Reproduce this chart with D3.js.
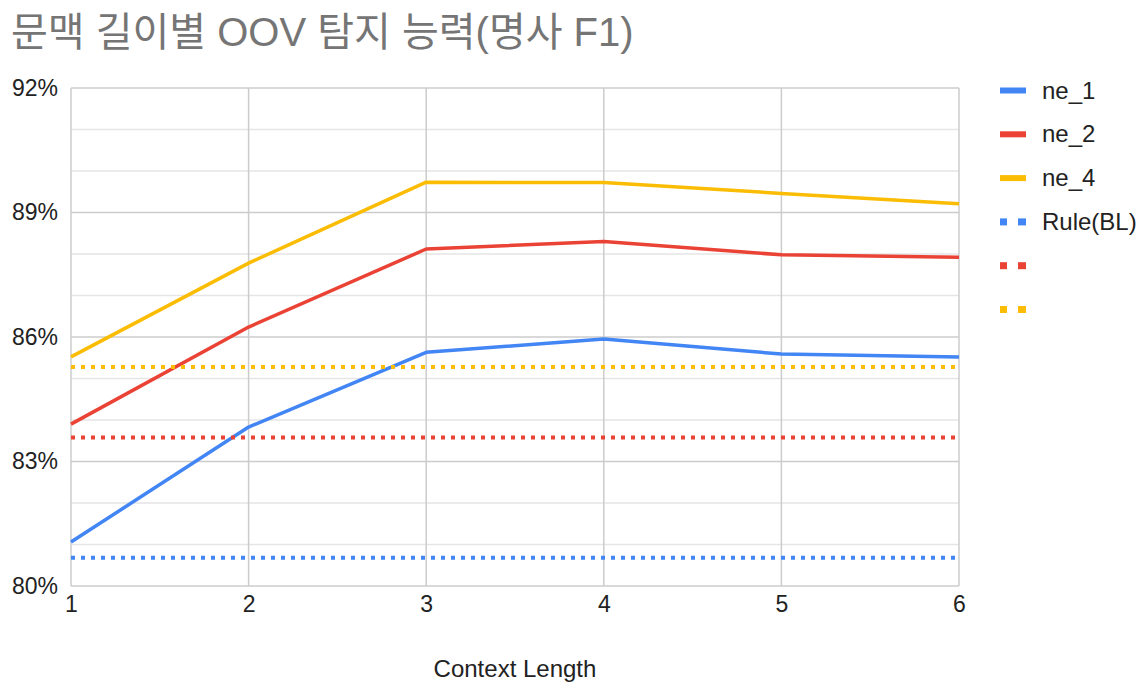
<!DOCTYPE html>
<html><head><meta charset="utf-8">
<script src="https://cdn.jsdelivr.net/npm/d3@7"></script>
<style>
html,body{margin:0;padding:0;background:#fff;}
svg{display:block;font-family:"Liberation Sans",Arial,"Noto Sans CJK KR",sans-serif;}
</style></head><body>
<svg id="c" width="1148" height="698"></svg>
<script>
const title = "문맥 길이별 OOV 탐지 능력(명사 F1)";
const xTitle = "Context Length";
const contextLengths = [1, 2, 3, 4, 5, 6];
const ne1 = [81.06, 83.83, 85.63, 85.95, 85.59, 85.52];
const ne2 = [83.90, 86.24, 88.12, 88.30, 87.98, 87.92];
const ne4 = [85.52, 87.78, 89.73, 89.72, 89.46, 89.21];
const ruleBlue = [80.68, 80.68, 80.68, 80.68, 80.68, 80.68];
const ruleRed = [83.58, 83.58, 83.58, 83.58, 83.58, 83.58];
const ruleYellow = [85.28, 85.28, 85.28, 85.28, 85.28, 85.28];
const seriesNames = ["ne_1", "ne_2", "ne_4", "Rule(BL)", "", ""];
const yMajorTicks = [80, 83, 86, 89, 92];
const yMinorTicks = [81, 82, 84, 85, 87, 88, 90, 91];

const colors = ["#4285F4", "#EA4335", "#FBBC04", "#4285F4", "#EA4335", "#FBBC04"];
const dashed = [false, false, false, true, true, true];
const allSeries = [ne1, ne2, ne4, ruleBlue, ruleRed, ruleYellow];

const svg = d3.select("#c");
const L = 71, R = 959, T = 88, B = 586;
const x = d3.scaleLinear().domain([1, 6]).range([L, R]);
const y = d3.scaleLinear().domain([80, 92]).range([B, T]);

svg.append("text").attr("x", 11).attr("y", 46)
  .attr("font-family", "'Liberation Sans','Noto Sans CJK KR',sans-serif")
  .attr("font-size", 40).attr("fill", "#757575").text(title);

// minor gridlines
svg.append("g").selectAll("line").data(yMinorTicks).join("line")
  .attr("x1", L).attr("x2", R).attr("y1", d => y(d)).attr("y2", d => y(d))
  .attr("stroke", "#e5e5e5").attr("stroke-width", 1.5);
// vertical gridlines
svg.append("g").selectAll("line").data(contextLengths).join("line")
  .attr("x1", d => x(d)).attr("x2", d => x(d)).attr("y1", T).attr("y2", B)
  .attr("stroke", "#cccccc").attr("stroke-width", 1.5);
// major gridlines
svg.append("g").selectAll("line").data(yMajorTicks).join("line")
  .attr("x1", L).attr("x2", R).attr("y1", d => y(d)).attr("y2", d => y(d))
  .attr("stroke", "#cccccc").attr("stroke-width", 1.5);

// axes
const yAxis = d3.axisLeft(y).tickValues(yMajorTicks).tickFormat(d => d + "%").tickSize(0).tickPadding(13);
const gy = svg.append("g").attr("transform", `translate(${L},0)`).call(yAxis);
gy.select(".domain").remove();
gy.selectAll("text").attr("font-size", 23).attr("fill", "#222").attr("font-family", "'Liberation Sans',Arial,sans-serif");

const xAxis = d3.axisBottom(x).tickValues(contextLengths).tickFormat(d3.format("d")).tickSize(0).tickPadding(10);
const gx = svg.append("g").attr("transform", `translate(0,${B})`).call(xAxis);
gx.select(".domain").remove();
gx.selectAll("text").attr("font-size", 23).attr("fill", "#222").attr("font-family", "'Liberation Sans',Arial,sans-serif");

svg.append("text").attr("x", (L + R) / 2).attr("y", 677).attr("text-anchor", "middle")
  .attr("font-size", 24).attr("fill", "#222").text(xTitle);

// series
const line = d3.line().x((d, i) => x(contextLengths[i])).y(d => y(d));
allSeries.forEach((s, k) => {
  svg.append("path").datum(s).attr("d", line)
    .attr("fill", "none").attr("stroke", colors[k])
    .attr("stroke-width", dashed[k] ? 4 : 3.5)
    .attr("stroke-linejoin", "round")
    .attr("stroke-dasharray", dashed[k] ? "4,6" : null);
});

// legend
const lg = svg.append("g");
seriesNames.forEach((n, k) => {
  const cy = 90.5 + k * 43.8;
  const g = lg.append("g");
  if (dashed[k]) {
    g.append("rect").attr("x", 1000).attr("y", cy - 3.5).attr("width", 7).attr("height", 7).attr("fill", colors[k]);
    g.append("rect").attr("x", 1018).attr("y", cy - 3.5).attr("width", 8).attr("height", 7).attr("fill", colors[k]);
  } else {
    g.append("rect").attr("x", 1000).attr("y", cy - 3).attr("width", 26).attr("height", 6).attr("fill", colors[k]);
  }
  if (n) g.append("text").attr("x", 1042).attr("y", cy + 8).attr("font-size", 24).attr("fill", "#222").text(n);
});
</script>
</body></html>
